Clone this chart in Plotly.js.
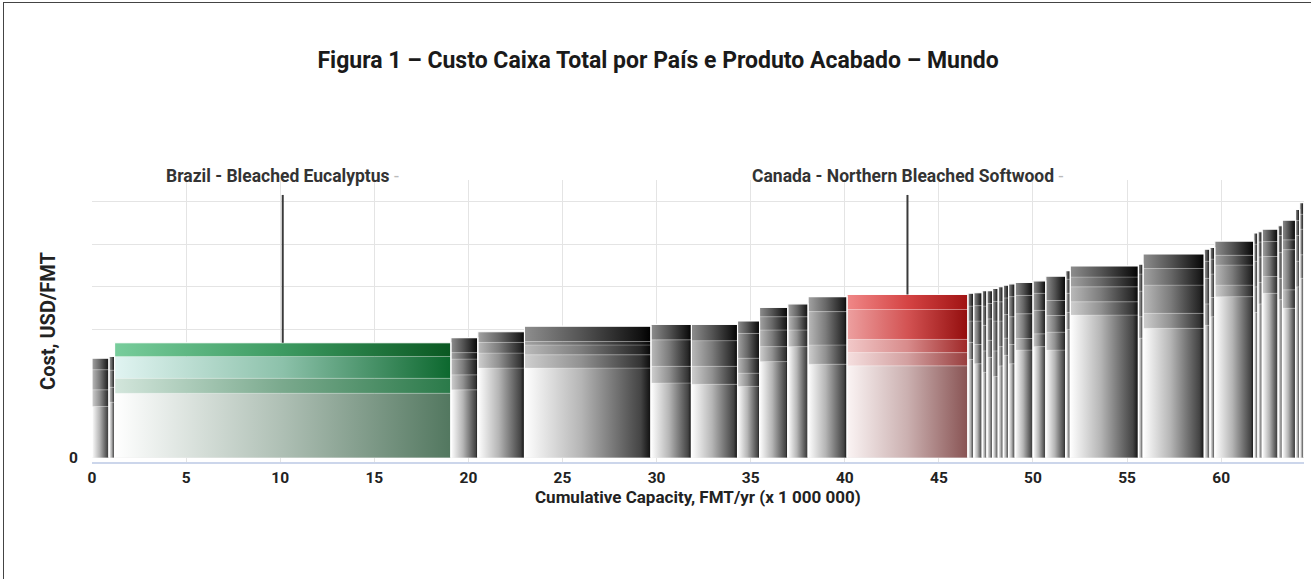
<!DOCTYPE html>
<html>
<head>
<meta charset="utf-8">
<script src="https://cdn.plot.ly/plotly-3.0.1.min.js"></script>
<style>
  html, body { margin:0; padding:0; background:#fff; }
  #chart { position:absolute; left:0; top:0; width:1311px; height:579px; }
  #frame { position:absolute; left:3px; top:2px; width:1312px; height:580px; border:1px solid #444; pointer-events:none; }
</style>
</head>
<body>
<div id="chart"></div>
<div id="frame"></div>
<script>
// ---- DATA ----
// capacity of each step, million FMT/yr (in merit order)
const capacity = [0.9, 0.3, 17.87, 1.43, 2.48, 6.72, 2.15, 2.45, 1.17, 1.5, 1.08, 2.07, 6.42,
  0.31, 0.45, 0.25, 0.30, 0.30, 0.27, 0.28, 0.35, 0.95, 0.68, 1.06, 0.24, 3.62, 0.25, 3.25,
  0.30, 0.26, 2.07, 0.22, 0.23, 0.84, 0.23, 0.70, 0.22, 0.21];
// stacked cost components, USD/FMT (bottom -> top)
const costLayer1 = [120, 130, 151, 159, 210, 210, 175, 172, 167, 225, 260, 219, 215,
  230, 220, 200, 235, 190, 215, 240, 220, 252, 260, 252, 300, 334, 280, 303,
  310, 330, 377, 340, 360, 385, 370, 350, 400, 420];
const costLayer2 = [39, 35, 35, 35, 35, 31, 39, 42, 31, 35, 39, 45, 31,
  40, 45, 50, 40, 60, 45, 40, 45, 27, 30, 42, 40, 31, 50, 35,
  50, 45, 27, 60, 50, 39, 50, 43, 60, 55];
const costLayer3 = [47, 40, 51, 37, 25, 23, 62, 60, 35, 39, 31, 78, 31,
  50, 55, 60, 50, 70, 60, 55, 65, 58, 55, 39, 45, 35, 60, 66,
  60, 55, 47, 60, 60, 47, 60, 94, 60, 60];
const costLayer4 = [27, 32, 32, 15, 25, 8, 0, 0, 58, 31, 30, 35, 70,
  35, 36, 45, 36, 46, 45, 39, 47, 43, 40, 35, 33, 23, 40, 39,
  40, 35, 23, 40, 35, 35, 40, 23, 35, 35];
const costLayer5 = [0, 0, 0, 35, 0, 36, 36, 38, 29, 22, 0, 0, 35,
  30, 30, 36, 30, 30, 35, 30, 30, 30, 29, 57, 20, 26, 23, 34,
  28, 27, 33, 26, 24, 29, 23, 46, 26, 27];
const barGroup = ['gray','gray','brazil','gray','gray','gray','gray','gray','gray','gray','gray','gray','canada',
  'gray','gray','gray','gray','gray','gray','gray','gray','gray','gray','gray','gray','gray','gray','gray',
  'gray','gray','gray','gray','gray','gray','gray','gray','gray','gray'];
const highlightIdx = [2, 12];
const highlightNames = ['Brazil - Bleached Eucalyptus', 'Canada - Northern Bleached Softwood'];
const xTickVals = [0, 5, 10, 15, 20, 25, 30, 35, 40, 45, 50, 55, 60];
const yTickVals = [0, 100, 200, 300, 400, 500, 600];
const yTickText = ['0', '', '', '', '', '', ''];
const xTitle = 'Cumulative Capacity, FMT/yr (x 1 000 000)';
const yTitle = 'Cost, USD/FMT';
const chartTitle = 'Figura 1 – Custo Caixa Total por País e Produto Acabado – Mundo';

// ---- STYLE ----
const palettes = {
  gray: [
    [[0,'#ffffff'],[0.45,'#b5b5b5'],[0.92,'#444444'],[1,'#0e0e0e']],
    [[0,'#cfcfcf'],[0.45,'#919191'],[0.92,'#333333'],[1,'#0a0a0a']],
    [[0,'#bababa'],[0.45,'#7c7c7c'],[0.92,'#262626'],[1,'#060606']],
    [[0,'#a3a3a3'],[0.45,'#686868'],[0.92,'#1c1c1c'],[1,'#040404']],
    [[0,'#8e8e8e'],[0.45,'#545454'],[0.92,'#101010'],[1,'#000000']]
  ],
  brazil: [
    [[0,'#ffffff'],[0.5,'#aebfb4'],[1,'#52775f']],
    [[0,'#d3e6dc'],[0.5,'#7aa98d'],[1,'#2a7a49']],
    [[0,'#e1f4f2'],[0.5,'#8cc1aa'],[1,'#0c682e']],
    [[0,'#78cd9c'],[0.5,'#3d9a61'],[1,'#0a5822']],
    [[0,'#78cd9c'],[0.5,'#3d9a61'],[1,'#0a5822']]
  ],
  canada: [
    [[0,'#fbf4f4'],[0.5,'#cbb0b0'],[1,'#885353']],
    [[0,'#f5dfdf'],[0.5,'#d3a0a0'],[1,'#983d3d']],
    [[0,'#f2c9c9'],[0.5,'#d88b8b'],[1,'#9f2727']],
    [[0,'#eda0a0'],[0.5,'#d35353'],[1,'#930d0d']],
    [[0,'#f08888'],[0.5,'#d54444'],[1,'#a01313']]
  ]
};
const layers = [costLayer1, costLayer2, costLayer3, costLayer4, costLayer5];
const FONT = 'Roboto, Arial, sans-serif';

// ---- BUILD ----
const starts = [];
let acc = 0;
capacity.forEach(c => { starts.push(acc); acc += c; });
const totals = capacity.map((_, i) => layers.reduce((s, L) => s + L[i], 0));

const traces = [];
capacity.forEach((c, i) => {
  const x0 = starts[i], x1 = starts[i] + c;
  let base = 0;
  layers.forEach((L, k) => {
    const v = L[i];
    if (v <= 0) return;
    const y0 = base, y1 = base + v;
    base = y1;
    traces.push({
      type: 'scatter', mode: 'lines',
      x: [x0, x1, x1, x0, x0], y: [y0, y0, y1, y1, y0],
      fill: 'toself',
      fillgradient: { type: 'horizontal', colorscale: palettes[barGroup[i]][k] },
      line: { color: 'rgba(255,255,255,0.35)', width: 0.6 },
      hoverinfo: 'skip', showlegend: false
    });
  });
});
// outline of each step (white separation between producers)
capacity.forEach((c, i) => {
  const x0 = starts[i], x1 = starts[i] + c;
  traces.push({
    type: 'scatter', mode: 'lines',
    x: [x0, x0, x1, x1], y: [0, totals[i], totals[i], 0],
    line: { color: 'rgba(255,255,255,0.95)', width: 1.1 },
    hoverinfo: 'skip', showlegend: false
  });
});

const shapes = [];
const annotations = [];
highlightIdx.forEach((idx, j) => {
  const xm = starts[idx] + capacity[idx] / 2;
  shapes.push({ type: 'line', xref: 'x', yref: 'y', x0: xm, x1: xm, y0: totals[idx], y1: 615,
    line: { color: '#3a3a3a', width: 2 }, layer: 'above' });
  annotations.push({ xref: 'x', yref: 'paper', x: xm, y: 1.014, yanchor: 'middle', xanchor: 'center',
    showarrow: false,
    text: '<b>' + highlightNames[j] + '</b> <span style="color:#bbbbbb">-</span>',
    font: { family: FONT, size: 17.5, color: '#333333' } });
});
// x-axis title placed as annotation for exact positioning
annotations.push({ xref: 'paper', yref: 'paper', x: 0.5, y: -0.125, xanchor: 'center', yanchor: 'middle',
  showarrow: false, text: '<b>' + xTitle + '</b>',
  font: { family: FONT, size: 17, color: '#222222' } });

const layout = {
  width: 1311, height: 579,
  margin: { l: 92, r: 7, t: 180, b: 117 },
  paper_bgcolor: '#ffffff', plot_bgcolor: '#ffffff',
  title: { text: '<b>' + chartTitle + '</b>',
    x: 0.502, xref: 'container', y: 0.897, yref: 'container', yanchor: 'middle',
    font: { family: FONT, size: 23, color: '#1a1a1a' } },
  xaxis: {
    range: [0, 64.4], tickvals: xTickVals, ticks: '',
    showgrid: true, gridcolor: '#e4e4e4', gridwidth: 1,
    showline: true, linecolor: '#ccd6eb', linewidth: 2, zeroline: false,
    ticklabelstandoff: 0,
    tickfont: { family: FONT, size: 15.5, color: '#222222', weight: 700 }
  },
  yaxis: {
    range: [-10, 650], tickvals: yTickVals, ticktext: yTickText, ticks: '',
    showgrid: true, gridcolor: '#e4e4e4', gridwidth: 1, zeroline: false, showline: false,
    ticklabelstandoff: 13,
    tickfont: { family: FONT, size: 15.5, color: '#222222', weight: 700 },
    title: { text: '<b>' + yTitle + '</b>', standoff: 8,
      font: { family: FONT, size: 20, color: '#222222' } }
  },
  shapes: shapes,
  annotations: annotations,
  showlegend: false
};

Plotly.newPlot('chart', traces, layout, { staticPlot: true, displayModeBar: false });
</script>
</body>
</html>
